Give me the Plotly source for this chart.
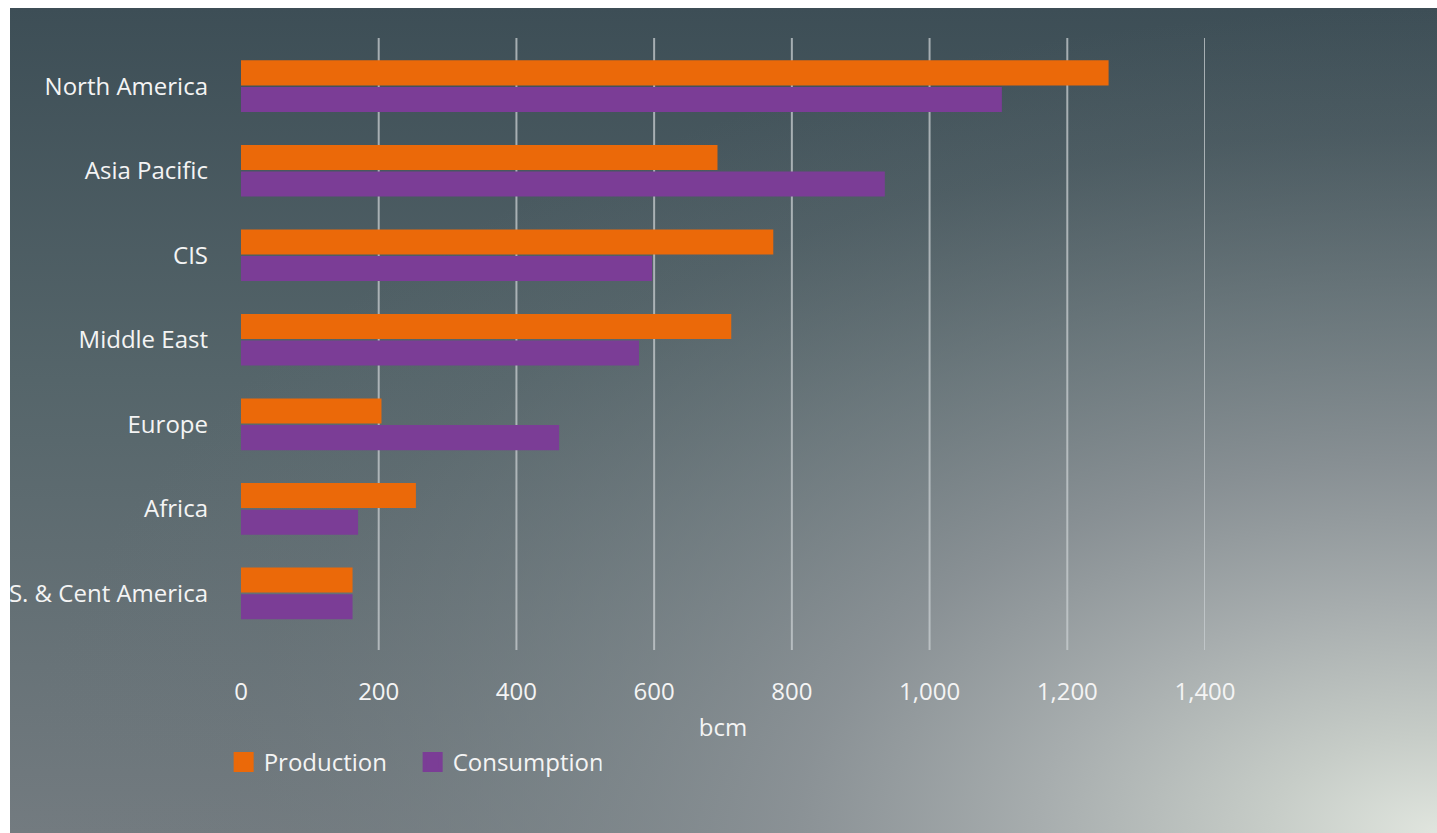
import plotly.graph_objects as go
from urllib.parse import quote

regions = ["North America", "Asia Pacific", "CIS", "Middle East", "Europe", "Africa", "S. & Cent America"]
production = [1260, 692, 773, 712, 204, 254, 162]
consumption = [1105, 935, 597, 578, 462, 170, 162]
x_ticks = [0, 200, 400, 600, 800, 1000, 1200, 1400]
x_tick_text = ["0", "200", "400", "600", "800", "1,000", "1,200", "1,400"]

ORANGE = "#eb6909"
PURPLE = "#7b3d96"
FONT = "Open Sans"
TXT = "#f4f4f4"
FS = 24
W, H = 1437, 833
L, R, T, B = 241, 232, 38, 183
pw, ph = W - L - R, H - T - B
BG_X0, BG_Y0 = 10, 8  # white strips on the left / top

svg = (
    "<svg xmlns='http://www.w3.org/2000/svg' width='1427' height='825' preserveAspectRatio='none'>"
    "<defs>"
    "<linearGradient id='a' x1='0' y1='0' x2='0' y2='1'>"
    "<stop offset='0' stop-color='#3d4e56'/>"
    "<stop offset='0.45' stop-color='#55656a'/>"
    "<stop offset='1' stop-color='#737b80'/>"
    "</linearGradient>"
    "<radialGradient id='b' cx='1' cy='1' r='1'>"
    "<stop offset='0' stop-color='#e0e5de' stop-opacity='1'/>"
    "<stop offset='0.12' stop-color='#c6ccc7' stop-opacity='1'/>"
    "<stop offset='0.28' stop-color='#a7adae' stop-opacity='1'/>"
    "<stop offset='0.45' stop-color='#8d9498' stop-opacity='0.9'/>"
    "<stop offset='0.65' stop-color='#7d878b' stop-opacity='0.55'/>"
    "<stop offset='0.85' stop-color='#6f797d' stop-opacity='0.15'/>"
    "<stop offset='1' stop-color='#6f797d' stop-opacity='0'/>"
    "</radialGradient>"
    "</defs>"
    "<rect width='1427' height='825' fill='url(#a)'/>"
    "<rect width='1427' height='825' fill='url(#b)'/>"
    "</svg>"
)
bg_uri = "data:image/svg+xml;charset=utf-8," + quote(svg)

fig = go.Figure()
fig.add_trace(go.Bar(y=regions, x=production, orientation="h", name="Production",
                     marker=dict(color=ORANGE, line=dict(width=0)), showlegend=False))
fig.add_trace(go.Bar(y=regions, x=consumption, orientation="h", name="Consumption",
                     marker=dict(color=PURPLE, line=dict(width=0)), showlegend=False))
# legend entries with larger square swatches
fig.add_trace(go.Scatter(x=[None], y=[None], mode="markers", name="Production",
                         marker=dict(symbol="square", size=16, color=ORANGE,
                                     line=dict(color=ORANGE, width=4))))
fig.add_trace(go.Scatter(x=[None], y=[None], mode="markers", name="Consumption",
                         marker=dict(symbol="square", size=16, color=PURPLE,
                                     line=dict(color=PURPLE, width=4))))

shapes = []
for v in x_ticks[1:]:
    shapes.append(dict(type="line", xref="x", yref="paper", x0=v, x1=v, y0=0, y1=1,
                       line=dict(color="rgba(200,205,208,0.75)", width=2), layer="below"))
# white strip on the left (clips the first label like the reference)
shapes.append(dict(type="rect", xref="paper", yref="paper",
                   x0=-L / pw - 0.05, x1=(BG_X0 - L) / pw, y0=-B / ph - 0.05, y1=1 + T / ph + 0.05,
                   fillcolor="white", line=dict(width=0), layer="above"))

fig.update_layout(
    width=W, height=H,
    margin=dict(l=L, r=R, t=T, b=B, autoexpand=False),
    paper_bgcolor="white",
    plot_bgcolor="rgba(0,0,0,0)",
    barmode="group", bargap=0.37, bargroupgap=0.06,
    font=dict(family=FONT, color=TXT, size=FS),
    shapes=shapes,
    images=[dict(source=bg_uri, xref="paper", yref="paper",
                 x=(BG_X0 - L) / pw, y=1 + (T - BG_Y0) / ph,
                 sizex=(W - BG_X0) / pw, sizey=(H - BG_Y0) / ph,
                 xanchor="left", yanchor="top", sizing="stretch", layer="below")],
    xaxis=dict(range=[0, 1400], tickvals=x_ticks, ticktext=x_tick_text, showgrid=False,
               zeroline=False, showline=False, ticks="", ticklabelstandoff=25, automargin=False,
               tickfont=dict(size=FS, color=TXT),
               title=dict(text="bcm", font=dict(size=FS, color=TXT), standoff=13)),
    yaxis=dict(categoryorder="array", categoryarray=regions, range=[6.67, -0.57],
               showgrid=False, zeroline=False, showline=False, ticks="", automargin=False,
               ticklabelstandoff=32, tickfont=dict(size=FS, color=TXT)),
    legend=dict(orientation="h", x=-0.018, xanchor="left", y=-0.147, yanchor="top",
                bgcolor="rgba(0,0,0,0)", font=dict(size=FS, color=TXT),
                itemsizing="trace", traceorder="normal",
                entrywidth=144, entrywidthmode="pixels"),
)

fig.write_html(
    "out.html",
    config={"displayModeBar": False},
    post_script="document.documentElement.style.margin='0';document.body.style.margin='0';"
                "document.documentElement.style.overflow='hidden';document.body.style.overflow='hidden';",
)
